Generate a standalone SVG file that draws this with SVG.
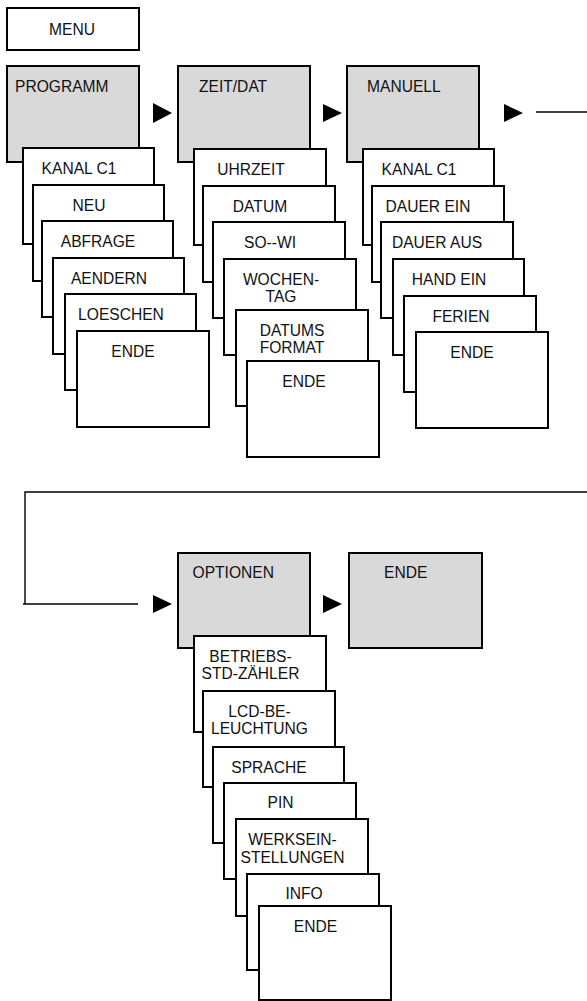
<svg xmlns="http://www.w3.org/2000/svg" width="587" height="1001" viewBox="0 0 587 1001">
<defs>
<style>
.bx{fill:#ffffff;stroke:#000;stroke-width:2}
.gr{fill:#d9d9d9;stroke:#000;stroke-width:2}
.t{font-family:"Liberation Sans",Arial,sans-serif;font-size:15.6px;fill:#111}
.m{text-anchor:middle}
.ln{fill:none;stroke:#000;stroke-width:1.4}
.ar{fill:#000;stroke:none}
</style>
</defs>
<rect width="587" height="1001" fill="#fff"/>

<g id="connectors">
<polygon class="ar" points="153,103 172,113 153,123"/>
<polygon class="ar" points="323,104 342,113 323,122"/>
<polygon class="ar" points="504,104 523,113 504,122"/>
<line class="ln" x1="536" y1="112" x2="587" y2="112"/>
<polyline class="ln" points="587,492 25,492 25,604"/>
<line class="ln" x1="23" y1="604" x2="138" y2="604"/>
<polygon class="ar" points="153,595 172,604 153,613"/>
<polygon class="ar" points="323,595 342,604 323,613"/>
</g>

<g id="menu"><rect class="bx" x="7" y="8" width="132" height="42"/><text class="t m" x="72" y="35">MENU</text></g>

<g id="programm"><rect class="gr" x="7" y="66" width="132" height="96"/><text class="t" x="15" y="92">PROGRAMM</text></g>
<g id="p-kanal"><rect class="bx" x="23" y="148" width="131" height="96"/><text class="t m" x="79" y="174">KANAL C1</text></g>
<g id="p-neu"><rect class="bx" x="33" y="185" width="131" height="96"/><text class="t m" x="89" y="211">NEU</text></g>
<g id="p-abfrage"><rect class="bx" x="42" y="221" width="131" height="96"/><text class="t m" x="98" y="247">ABFRAGE</text></g>
<g id="p-aendern"><rect class="bx" x="53" y="258" width="131" height="96"/><text class="t m" x="109" y="284">AENDERN</text></g>
<g id="p-loeschen"><rect class="bx" x="65" y="294" width="131" height="96"/><text class="t m" x="121" y="320">LOESCHEN</text></g>
<g id="p-ende"><rect class="bx" x="77" y="331" width="132" height="96"/><text class="t m" x="133" y="357">ENDE</text></g>

<g id="zeitdat"><rect class="gr" x="178" y="66" width="132" height="96"/><text class="t" x="199" y="92">ZEIT/DAT</text></g>
<g id="z-uhrzeit"><rect class="bx" x="194" y="149" width="132" height="96"/><text class="t m" x="251" y="175">UHRZEIT</text></g>
<g id="z-datum"><rect class="bx" x="203" y="186" width="132" height="96"/><text class="t m" x="260" y="212">DATUM</text></g>
<g id="z-sowi"><rect class="bx" x="213" y="222" width="132" height="96"/><text class="t m" x="270" y="248">SO--WI</text></g>
<g id="z-wochentag"><rect class="bx" x="224" y="259" width="132" height="96"/><text class="t m" x="281" y="285">WOCHEN-</text><text class="t m" x="281" y="302">TAG</text></g>
<g id="z-datumsformat"><rect class="bx" x="236" y="310" width="132" height="96"/><text class="t m" x="292" y="336">DATUMS</text><text class="t m" x="292" y="353">FORMAT</text></g>
<g id="z-ende"><rect class="bx" x="247" y="361" width="132" height="96"/><text class="t m" x="304" y="387">ENDE</text></g>

<g id="manuell"><rect class="gr" x="347" y="66" width="132" height="96"/><text class="t" x="367" y="92">MANUELL</text></g>
<g id="m-kanal"><rect class="bx" x="363" y="149" width="131" height="96"/><text class="t m" x="419" y="175">KANAL C1</text></g>
<g id="m-dauerein"><rect class="bx" x="372" y="186" width="132" height="96"/><text class="t m" x="428" y="212">DAUER EIN</text></g>
<g id="m-daueraus"><rect class="bx" x="381" y="222" width="132" height="96"/><text class="t m" x="437" y="248">DAUER AUS</text></g>
<g id="m-handein"><rect class="bx" x="393" y="259" width="131" height="96"/><text class="t m" x="449" y="285">HAND EIN</text></g>
<g id="m-ferien"><rect class="bx" x="404" y="296" width="132" height="96"/><text class="t m" x="461" y="322">FERIEN</text></g>
<g id="m-ende"><rect class="bx" x="416" y="332" width="132" height="96"/><text class="t m" x="472" y="358">ENDE</text></g>

<g id="optionen"><rect class="gr" x="178" y="553" width="132" height="95"/><text class="t" x="192.5" y="578">OPTIONEN</text></g>
<g id="ende-top"><rect class="gr" x="349" y="553" width="133" height="95"/><text class="t" x="384" y="578">ENDE</text></g>
<g id="o-betriebs"><rect class="bx" x="194" y="636" width="132" height="96"/><text class="t m" x="250.5" y="662">BETRIEBS-</text><text class="t m" x="250.5" y="679">STD-ZÄHLER</text></g>
<g id="o-lcd"><rect class="bx" x="203" y="691" width="132" height="96"/><text class="t m" x="259.5" y="717">LCD-BE-</text><text class="t m" x="259.5" y="734">LEUCHTUNG</text></g>
<g id="o-sprache"><rect class="bx" x="213" y="747" width="131" height="96"/><text class="t m" x="269" y="773">SPRACHE</text></g>
<g id="o-pin"><rect class="bx" x="224" y="783" width="132" height="96"/><text class="t m" x="280.5" y="808">PIN</text></g>
<g id="o-werks"><rect class="bx" x="236" y="819" width="132" height="97"/><text class="t m" x="292.5" y="845">WERKSEIN-</text><text class="t m" x="292.5" y="863">STELLUNGEN</text></g>
<g id="o-info"><rect class="bx" x="247" y="874" width="132" height="96"/><text class="t m" x="304" y="899">INFO</text></g>
<g id="o-ende"><rect class="bx" x="259" y="906" width="132" height="94"/><text class="t m" x="315.5" y="932">ENDE</text></g>
</svg>
